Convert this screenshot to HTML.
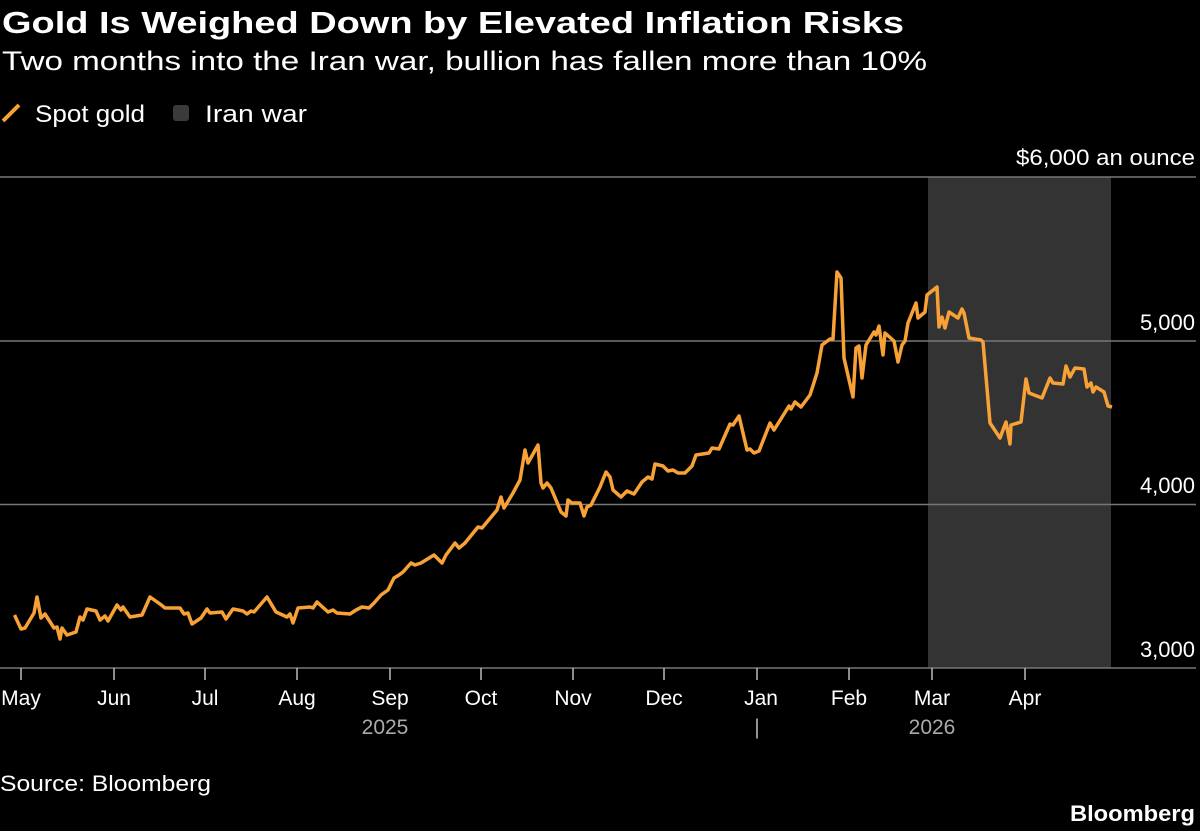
<!DOCTYPE html>
<html><head><meta charset="utf-8"><style>
html,body{margin:0;padding:0;background:#000;}
svg{display:block;font-family:"Liberation Sans",sans-serif;}
</style></head><body>
<svg width="1200" height="831" viewBox="0 0 1200 831" xmlns="http://www.w3.org/2000/svg">
<rect width="1200" height="831" fill="#000"/>
<text x="2" y="33" fill="#fff" font-size="31" font-weight="bold" textLength="902" lengthAdjust="spacingAndGlyphs">Gold Is Weighed Down by Elevated Inflation Risks</text>
<text x="2" y="70" fill="#fff" font-size="27" textLength="925" lengthAdjust="spacingAndGlyphs">Two months into the Iran war, bullion has fallen more than 10%</text>
<line x1="3" y1="121" x2="19" y2="105" stroke="#f7a136" stroke-width="4"/>
<text x="35" y="122" fill="#fff" font-size="24" textLength="110" lengthAdjust="spacingAndGlyphs">Spot gold</text>
<rect x="173" y="105" width="16" height="16" rx="3" fill="#3a3a3a"/>
<text x="205" y="122" fill="#fff" font-size="24" textLength="102" lengthAdjust="spacingAndGlyphs">Iran war</text>
<rect x="928" y="177" width="183" height="491" fill="#333"/>
<g stroke="#777" stroke-width="1.5">
<line x1="0" y1="177" x2="1196" y2="177"/>
<line x1="0" y1="341" x2="1196" y2="341"/>
<line x1="0" y1="504.5" x2="1196" y2="504.5"/>
<line x1="0" y1="668" x2="1196" y2="668"/>
</g>
<g stroke="#bbb" stroke-width="1.5">
<line x1="21" y1="668" x2="21" y2="680"/><line x1="114" y1="668" x2="114" y2="680"/>
<line x1="205" y1="668" x2="205" y2="680"/><line x1="297" y1="668" x2="297" y2="680"/>
<line x1="390" y1="668" x2="390" y2="680"/><line x1="481" y1="668" x2="481" y2="680"/>
<line x1="573" y1="668" x2="573" y2="680"/><line x1="664" y1="668" x2="664" y2="680"/>
<line x1="757" y1="668" x2="757" y2="680"/><line x1="849" y1="668" x2="849" y2="680"/>
<line x1="932" y1="668" x2="932" y2="680"/><line x1="1025" y1="668" x2="1025" y2="680"/>
</g>
<g fill="#fff" font-size="22" text-anchor="end">
<text x="1195" y="165" textLength="179" lengthAdjust="spacingAndGlyphs">$6,000 an ounce</text>
<text x="1195" y="330">5,000</text>
<text x="1195" y="493">4,000</text>
<text x="1195" y="657">3,000</text>
</g>
<g fill="#fff" font-size="21" text-anchor="middle">
<text x="21" y="705">May</text><text x="114" y="705">Jun</text><text x="205" y="705">Jul</text>
<text x="297" y="705">Aug</text><text x="390" y="705">Sep</text><text x="481" y="705">Oct</text>
<text x="573" y="705">Nov</text><text x="664" y="705">Dec</text><text x="761" y="705">Jan</text>
<text x="849" y="705">Feb</text><text x="932" y="705">Mar</text><text x="1025" y="705">Apr</text>
</g>
<g fill="#aaa" font-size="21" text-anchor="middle">
<text x="385" y="734">2025</text><text x="757" y="734">|</text><text x="932" y="734">2026</text>
</g>
<text x="0" y="791" fill="#fff" font-size="22" textLength="211" lengthAdjust="spacingAndGlyphs">Source: Bloomberg</text>
<text x="1195" y="821" fill="#fff" font-size="22" font-weight="bold" text-anchor="end" textLength="125" lengthAdjust="spacingAndGlyphs">Bloomberg</text>
<polyline fill="none" stroke="#f7a136" stroke-width="3.5" stroke-linejoin="round" points="14.5,615 21,629 25,628 34,613 37,597 41,618 45,614 54,628 57,627 60,639 62,628 67,635 76,632 80,617 83,620 87,609 96,611 100,620 105,616 108,621 117,605 121,610 123,607 130,617 142,615 150,597 160,604 165,608 180,608 184,614 188,613 192,624 201,618 207,609 210,613 222,612 226,619 233,609 243,611 247,614 251,611 254,612 267,597 276,612 287,617 290,614 293,623 298,608 310,607 313,608 317,602 328,612 333,610 337,613 350,614 356,610 362,607 369,608 374,603 381,595 388,590 394,578 399,575 403,572 411,563 415,565 421,563 434,555 442,563 446,555 455,543 459,548 465,543 478,527 482,528 497,510 501,497 504,508 513,493 520,480 525,450 528,463 538,445 541,483 543,488 547,483 551,488 561,512 566,516 568,500 572,503 580,503 584,516 587,507 591,505 600,487 606,472 610,477 613,490 621,497 627,491 634,494 642,482 648,477 652,479 655,464 663,466 668,471 673,470 678,473 685,473 692,466 696,455 709,453 712,448 719,449 730,424 733,425 739,416 747,450 750,449 754,453 759,451 770,423 774,430 789,406 791,409 795,402 801,407 810,395 817,373 822,345 830,339 833,339 837,272 841,278 844,358 853,397 856,348 859,346 862,378 866,345 874,332 876,335 879,326 883,355 885,333 894,341 898,362 902,345 905,341 908,323 916,303 918,318 925,312 927,295 937,287 939,327 942,317 945,328 949,312 958,318 962,309 964,313 969,338 981,340 983,342 990,423 1000,438 1006,422 1010,444 1011,425 1021,422 1026,379 1029,393 1042,398 1046,388 1050,378 1053,383 1063,384 1066,366 1070,377 1075,368 1084,369 1087,387 1091,383 1093,392 1096,387 1104,392 1108,406 1112,407"/>
</svg>
</body></html>
